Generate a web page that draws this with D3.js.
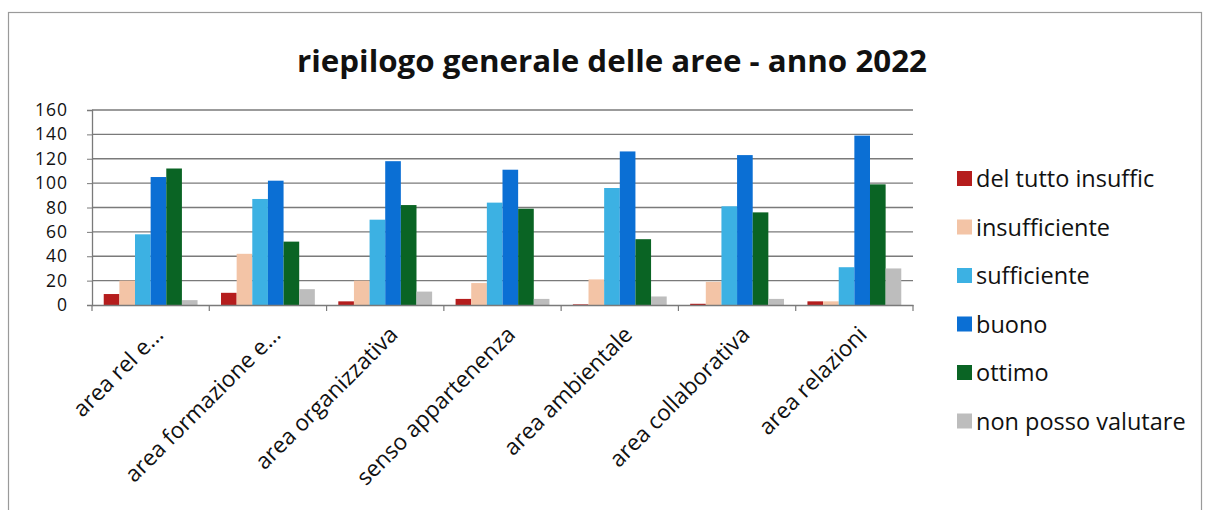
<!DOCTYPE html>
<html><head><meta charset="utf-8">
<script src="https://cdn.jsdelivr.net/npm/d3@7"></script>
<style>
html,body{margin:0;padding:0;background:#fff;}
svg{display:block;}
text{font-family:"Open Sans","Noto Sans",sans-serif;fill:#111;}
</style></head>
<body>
<svg id="c" width="1210" height="510"></svg>
<script>
const title = "riepilogo generale delle aree - anno 2022";
const categories = ["area rel e...", "area formazione e...", "area organizzativa", "senso appartenenza", "area ambientale", "area collaborativa", "area relazioni"];
const seriesNames = ["del tutto insuffic", "insufficiente", "sufficiente", "buono", "ottimo", "non posso valutare"];
const delTuttoInsuffic = [9, 10, 3, 5, 0.5, 1, 3];
const insufficiente = [20, 42, 20, 18, 21, 19, 3];
const sufficiente = [58, 87, 70, 84, 96, 81, 31];
const buono = [105, 102, 118, 111, 126, 123, 139];
const ottimo = [112, 52, 82, 79, 54, 76, 99];
const nonPossoValutare = [4, 13, 11, 5, 7, 5, 30];
const yTicks = [0, 20, 40, 60, 80, 100, 120, 140, 160];
const colors = ["#b51d1d", "#f3c4a6", "#3cb1e3", "#0b6fd4", "#0a6424", "#bdbdbd"];

const seriesValues = [delTuttoInsuffic, insufficiente, sufficiente, buono, ottimo, nonPossoValutare];

const svg = d3.select("#c");
const plot = {left: 92, right: 913, top: 110, bottom: 305};

// outer frame
svg.append("rect").attr("x", 8.5).attr("y", 12.5).attr("width", 1193).attr("height", 520)
  .attr("fill", "none").attr("stroke", "#9a9a9a").attr("stroke-width", 1.2);

svg.append("text").attr("x", 612).attr("y", 72).attr("text-anchor", "middle")
  .attr("font-size", 31).attr("font-weight", "bold")
  .attr("textLength", 630).attr("lengthAdjust", "spacingAndGlyphs")
  .text(title);

const y = d3.scaleLinear().domain([0, 160]).range([plot.bottom, plot.top]);
const x0 = d3.scaleBand().domain(categories).range([plot.left, plot.right]).padding(0);
const x1 = d3.scaleBand().domain(seriesNames)
  .range([x0.bandwidth() * 0.1, x0.bandwidth() * 0.9]).padding(0);

// gridlines
svg.append("g").selectAll("line").data(yTicks.filter(d => d > 0)).join("line")
  .attr("x1", plot.left).attr("x2", plot.right)
  .attr("y1", d => y(d)).attr("y2", d => y(d))
  .attr("stroke", "#7a7a7a").attr("stroke-width", 1.3);

// bars
const groups = svg.append("g").selectAll("g").data(categories).join("g")
  .attr("transform", d => `translate(${x0(d)},0)`);
groups.selectAll("rect")
  .data((c, i) => seriesNames.map((s, j) => ({s, j, v: seriesValues[j][i]})))
  .join("rect")
  .attr("x", d => x1(d.s)).attr("width", x1.bandwidth())
  .attr("y", d => y(d.v)).attr("height", d => y(0) - y(d.v))
  .attr("fill", d => colors[d.j]);

// y axis
const yAxis = svg.append("g").attr("transform", `translate(${plot.left},0)`)
  .call(d3.axisLeft(y).tickValues(yTicks).tickSize(5).tickPadding(19));
yAxis.select(".domain").attr("stroke", "#7a7a7a").attr("stroke-width", 1.3);
yAxis.selectAll(".tick line").attr("stroke", "#7a7a7a");
yAxis.selectAll(".tick text").attr("font-size", 17.5).attr("letter-spacing", 1)
  .attr("font-family", "Open Sans").attr("fill", "#111");

// x axis
const xAxis = svg.append("g").attr("transform", `translate(0,${plot.bottom})`)
  .call(d3.axisBottom(x0).tickSize(0).tickFormat(""));
xAxis.select(".domain").attr("stroke", "#7a7a7a").attr("stroke-width", 1.3);
const bounds = categories.map(c => x0(c)).concat([plot.right]);
svg.append("g").selectAll("line").data(bounds).join("line")
  .attr("x1", d => d).attr("x2", d => d)
  .attr("y1", plot.bottom).attr("y2", plot.bottom + 6)
  .attr("stroke", "#7a7a7a").attr("stroke-width", 1.2);

svg.append("g").selectAll("text").data(categories).join("text")
  .attr("transform", d => `translate(${x0(d) + x0.bandwidth() / 2 + 14},${plot.bottom + 31}) rotate(-45)`)
  .attr("text-anchor", "end").attr("font-size", 22.5)
  .text(d => d);

// legend
const legend = svg.append("g").selectAll("g").data(seriesNames).join("g")
  .attr("transform", (d, i) => `translate(957,${178.5 + i * 48.5})`);
legend.append("rect").attr("x", 0).attr("y", -7.5).attr("width", 15).attr("height", 15)
  .attr("fill", (d, i) => colors[i]);
legend.append("text").attr("x", 19).attr("y", 8.5).attr("font-size", 23.5).text(d => d);
</script>
</body></html>
